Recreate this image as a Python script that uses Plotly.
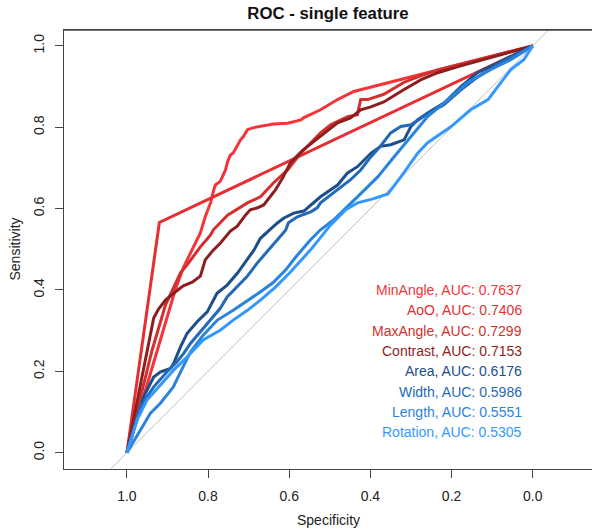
import plotly.graph_objects as go

# ---------------- data (specificity, sensitivity) ----------------
features = ["MinAngle", "AoO", "MaxAngle", "Contrast", "Area", "Width", "Length", "Rotation"]
auc_values = [0.7637, 0.7406, 0.7299, 0.7153, 0.6176, 0.5986, 0.5551, 0.5305]

spec_minangle = [1.0, 0.926, 0.881, 0.860, 0.840, 0.819, 0.807, 0.794, 0.786, 0.782, 0.770, 0.757,
                 0.752, 0.745, 0.738, 0.728, 0.720, 0.713, 0.703, 0.688, 0.671, 0.654, 0.639, 0.604,
                 0.571, 0.565, 0.523, 0.481, 0.441, 0.0]
sens_minangle = [0.0, 0.252, 0.400, 0.457, 0.498, 0.540, 0.580, 0.614, 0.646, 0.658, 0.667, 0.695,
                 0.715, 0.732, 0.737, 0.757, 0.769, 0.777, 0.794, 0.799, 0.802, 0.806, 0.808, 0.810,
                 0.818, 0.823, 0.843, 0.868, 0.888, 1.0]

spec_aoo = [1.0, 0.920, 0.0]
sens_aoo = [0.0, 0.566, 1.0]

spec_maxangle = [1.0, 0.938, 0.905, 0.881, 0.868, 0.852, 0.819, 0.794, 0.787, 0.752, 0.720, 0.703,
                 0.671, 0.639, 0.604, 0.571, 0.523, 0.498, 0.456, 0.432, 0.424, 0.407, 0.367, 0.318,
                 0.283, 0.234, 0.0]
sens_maxangle = [0.0, 0.252, 0.363, 0.412, 0.442, 0.461, 0.506, 0.535, 0.548, 0.584, 0.604, 0.614,
                 0.629, 0.663, 0.695, 0.737, 0.786, 0.806, 0.826, 0.831, 0.868, 0.868, 0.881, 0.910,
                 0.924, 0.941, 1.0]

spec_contrast = [1.0, 0.967, 0.951, 0.934, 0.922, 0.905, 0.881, 0.861, 0.839, 0.819, 0.807, 0.789,
                 0.769, 0.745, 0.728, 0.708, 0.696, 0.678, 0.663, 0.651, 0.634, 0.616, 0.597, 0.565,
                 0.523, 0.481, 0.449, 0.424, 0.399, 0.367, 0.318, 0.275, 0.234, 0.184, 0.0]
sens_contrast = [0.0, 0.166, 0.252, 0.331, 0.353, 0.375, 0.395, 0.410, 0.419, 0.434, 0.474, 0.496,
                 0.516, 0.545, 0.557, 0.584, 0.597, 0.602, 0.609, 0.624, 0.646, 0.676, 0.713, 0.745,
                 0.777, 0.811, 0.823, 0.843, 0.850, 0.862, 0.892, 0.917, 0.934, 0.949, 1.0]

spec_area = [1.0, 0.959, 0.934, 0.918, 0.893, 0.885, 0.868, 0.852, 0.827, 0.802, 0.778, 0.753,
             0.728, 0.704, 0.687, 0.671, 0.654, 0.630, 0.613, 0.589, 0.564, 0.523, 0.481, 0.457,
             0.432, 0.399, 0.375, 0.350, 0.317, 0.300, 0.284, 0.259, 0.218, 0.177, 0.136, 0.086, 0.0]
sens_area = [0.0, 0.137, 0.186, 0.198, 0.207, 0.219, 0.260, 0.293, 0.322, 0.346, 0.392, 0.412,
             0.441, 0.474, 0.498, 0.527, 0.543, 0.564, 0.577, 0.589, 0.594, 0.629, 0.658, 0.687,
             0.703, 0.736, 0.753, 0.757, 0.769, 0.802, 0.818, 0.835, 0.860, 0.900, 0.934, 0.958, 1.0]

spec_width = [1.0, 0.967, 0.934, 0.901, 0.877, 0.860, 0.844, 0.819, 0.794, 0.770, 0.753, 0.728,
              0.704, 0.679, 0.654, 0.630, 0.609, 0.602, 0.580, 0.547, 0.531, 0.523, 0.481, 0.449,
              0.424, 0.399, 0.375, 0.350, 0.325, 0.300, 0.268, 0.219, 0.177, 0.135, 0.086, 0.0]
sens_width = [0.0, 0.112, 0.162, 0.199, 0.223, 0.244, 0.268, 0.297, 0.326, 0.355, 0.383, 0.408,
              0.433, 0.466, 0.494, 0.523, 0.547, 0.565, 0.580, 0.592, 0.602, 0.614, 0.646, 0.671,
              0.695, 0.727, 0.754, 0.786, 0.802, 0.806, 0.827, 0.855, 0.892, 0.924, 0.954, 1.0]

spec_length = [1.0, 0.967, 0.942, 0.918, 0.886, 0.868, 0.844, 0.812, 0.777, 0.738, 0.708, 0.676,
               0.641, 0.609, 0.584, 0.548, 0.523, 0.491, 0.432, 0.382, 0.342, 0.300, 0.259, 0.209,
               0.160, 0.103, 0.054, 0.0]
sens_length = [0.0, 0.055, 0.097, 0.121, 0.161, 0.198, 0.247, 0.289, 0.326, 0.350, 0.370, 0.392,
               0.417, 0.449, 0.481, 0.523, 0.548, 0.572, 0.629, 0.678, 0.727, 0.777, 0.826, 0.868,
               0.910, 0.942, 0.966, 1.0]

spec_rotation = [1.0, 0.975, 0.951, 0.918, 0.885, 0.852, 0.812, 0.770, 0.738, 0.703, 0.671, 0.634,
                 0.597, 0.548, 0.498, 0.461, 0.432, 0.394, 0.357, 0.325, 0.283, 0.259, 0.202, 0.153,
                 0.110, 0.086, 0.054, 0.022, 0.0]
sens_rotation = [0.0, 0.080, 0.129, 0.166, 0.203, 0.235, 0.277, 0.301, 0.326, 0.350, 0.375, 0.407,
                 0.444, 0.498, 0.560, 0.597, 0.614, 0.624, 0.636, 0.678, 0.737, 0.762, 0.801, 0.843,
                 0.868, 0.900, 0.942, 0.966, 1.0]

x_ticks = [1.0, 0.8, 0.6, 0.4, 0.2, 0.0]
y_ticks = [0.0, 0.2, 0.4, 0.6, 0.8, 1.0]
tick_labels_x = ["1.0", "0.8", "0.6", "0.4", "0.2", "0.0"]
tick_labels_y = ["0.0", "0.2", "0.4", "0.6", "0.8", "1.0"]

# ---------------- styles ----------------
colors = ["#F5343A", "#E62E33", "#D2302F", "#8E1E1E", "#1C4F8A", "#2369B8", "#2A84DC", "#3399FF"]
FONT = "Liberation Sans, Arial, Helvetica, sans-serif"
AXIS_COLOR = "#444444"
x_range = [1.155, -0.146]
y_range = [-0.040, 1.039]

series = [
    (spec_minangle, sens_minangle),
    (spec_aoo, sens_aoo),
    (spec_maxangle, sens_maxangle),
    (spec_contrast, sens_contrast),
    (spec_area, sens_area),
    (spec_width, sens_width),
    (spec_length, sens_length),
    (spec_rotation, sens_rotation),
]

fig = go.Figure()

# chance diagonal (sensitivity = 1 - specificity), clipped by the plot area
diag_sens = [y_range[0] - 0.2, y_range[1] + 0.2]
fig.add_trace(go.Scatter(x=[1 - s for s in diag_sens], y=diag_sens, mode="lines",
                         line=dict(color="#BDBDBD", width=1), hoverinfo="skip", showlegend=False))

for (sx, sy), name, col in zip(series, features, colors):
    fig.add_trace(go.Scatter(x=sx, y=sy, mode="lines", name=name,
                             line=dict(color=col, width=3), showlegend=False))

# legend text
for i, (name, auc, col) in enumerate(zip(features, auc_values, colors)):
    fig.add_annotation(x=0.022, y=0.40 - 0.05 * i, xref="x", yref="y",
                       text=f"{name}, AUC: {auc:.4f}", showarrow=False,
                       xanchor="right", yanchor="middle",
                       font=dict(family=FONT, size=14, color=col))

# axis titles
fig.add_annotation(x=0.5, y=0, xref="paper", yref="paper", yshift=-51,
                   text="Specificity", showarrow=False, xanchor="center", yanchor="middle",
                   font=dict(family=FONT, size=14, color="#222222"))
fig.add_annotation(x=0, y=0.5, xref="paper", yref="paper", xshift=-50,
                   text="Sensitivity", showarrow=False, textangle=-90,
                   xanchor="center", yanchor="middle",
                   font=dict(family=FONT, size=14, color="#222222"))

# upper border of the plot box
fig.add_shape(type="line", xref="paper", yref="paper", x0=-0.002, x1=1.0, y0=1.0, y1=1.0,
              line=dict(color=AXIS_COLOR, width=1.6), layer="above")

axis_common = dict(showgrid=False, zeroline=False, showline=True, linecolor=AXIS_COLOR,
                   linewidth=1, ticks="outside", ticklen=8, tickwidth=1, tickcolor=AXIS_COLOR,
                   tickfont=dict(family=FONT, size=14, color="#222222"))

fig.update_layout(
    width=592, height=530,
    margin=dict(l=64, r=0, t=30, b=61),
    paper_bgcolor="white", plot_bgcolor="white",
    title=dict(text="<b>ROC - single feature</b>", x=0.5, xref="paper", xanchor="center",
               y=1 - 13 / 530, yref="container", yanchor="middle",
               font=dict(family=FONT, size=16.8, color="#111111")),
    xaxis=dict(range=x_range, autorange=False, tickvals=x_ticks, ticktext=tick_labels_x,
               mirror=True, ticklabelstandoff=6, **axis_common),
    yaxis=dict(range=y_range, autorange=False, tickvals=y_ticks, ticktext=tick_labels_y,
               tickangle=-90, ticklabelstandoff=5, **axis_common),
)

fig.write_html("out.html", config={"displayModeBar": False},
               post_script="document.body.style.margin='0px';document.body.style.overflow='hidden';")
